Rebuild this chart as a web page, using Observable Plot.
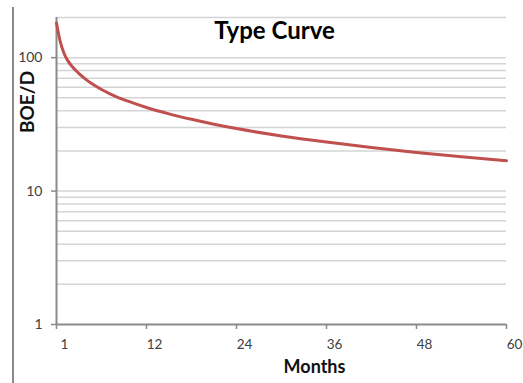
<!DOCTYPE html>
<html><head><meta charset="utf-8">
<script src="https://cdn.jsdelivr.net/npm/d3@7"></script>
<script src="https://cdn.jsdelivr.net/npm/@observablehq/plot@0.6"></script>
<style>
body{margin:0;background:#fff;}
#wrap{position:relative;width:523px;height:383px;overflow:hidden;}
#bar{position:absolute;left:12px;top:7px;bottom:0;width:2px;background:#8a8a8a;}
#wrap svg{position:absolute;left:0;top:0;}
</style></head><body>
<div id="wrap"><div id="bar"></div></div>
<script>
const months = [0,0.25,0.5,1,1.5,2,3,4,5,6,7,8,10,12,15,18,21,24,30,36,42,48,54,60];
const boed = [182,153,132,108,95,87,76,68.2,62.3,57.7,54,50.9,46.2,42.3,37.9,34.5,31.7,29.4,25.9,23.3,21.2,19.5,18.1,16.9];
const xTicks = [0,12,24,36,48,60];
const xTickLabels = ["1","12","24","36","48","60"];
const yTicks = [1,10,100];
const gridValues = [2,3,4,5,6,7,8,9,10,20,30,40,50,60,70,80,90,100,200];
const title = "Type Curve";
const xLabel = "Months";
const yLabel = "BOE/D";

const data = months.map((m, i) => ({m, q: boed[i]}));
const fmtX = d => xTickLabels[xTicks.indexOf(d)];

const chart = Plot.plot({
  width: 523, height: 383,
  marginLeft: 56, marginRight: 17, marginTop: 17, marginBottom: 59,
  style: {fontFamily: "Lato, 'Open Sans', sans-serif", background: "transparent"},
  x: {domain: [0, 60], label: null},
  y: {type: "log", domain: [1, 200], label: null},
  marks: [
    Plot.ruleY(gridValues, {stroke: "#d4d4d4", strokeWidth: 1.5}),
    Plot.ruleY([1], {stroke: "#8a8a8a", strokeWidth: 2}),
    Plot.ruleX([0], {stroke: "#8a8a8a", strokeWidth: 2}),
    Plot.axisY({ticks: yTicks, tickFormat: d => String(d), tickSize: 5, tickPadding: 9,
      fontSize: 14, stroke: "#8a8a8a", strokeWidth: 1.5, fill: "#404040", label: null}),
    Plot.axisX({ticks: xTicks, tickFormat: () => "", tickSize: 5, stroke: "#8a8a8a", strokeWidth: 1.5, label: null}),
    Plot.axisX({ticks: xTicks, tickFormat: fmtX, tickSize: 0, tickPadding: 15, dx: 8,
      fontSize: 13.5, fill: "#404040", label: null}),
    Plot.line(data, {x: "m", y: "q", stroke: "#c0504d", strokeWidth: 3, curve: "monotone-x"}),
    Plot.text([title], {frameAnchor: "top", dx: -7, dy: 4, fontSize: 24, fontWeight: "bold", fill: "#000"}),
    Plot.text([xLabel], {frameAnchor: "bottom", dx: 33, dy: 48, fontSize: 18, fontWeight: "bold", fill: "#111"}),
    Plot.text([yLabel], {frameAnchor: "left", dx: -29, dy: -38, rotate: -90, fontSize: 19, fontWeight: "bold", fill: "#111"})
  ]
});
document.getElementById("wrap").appendChild(chart);
</script>
</body></html>
